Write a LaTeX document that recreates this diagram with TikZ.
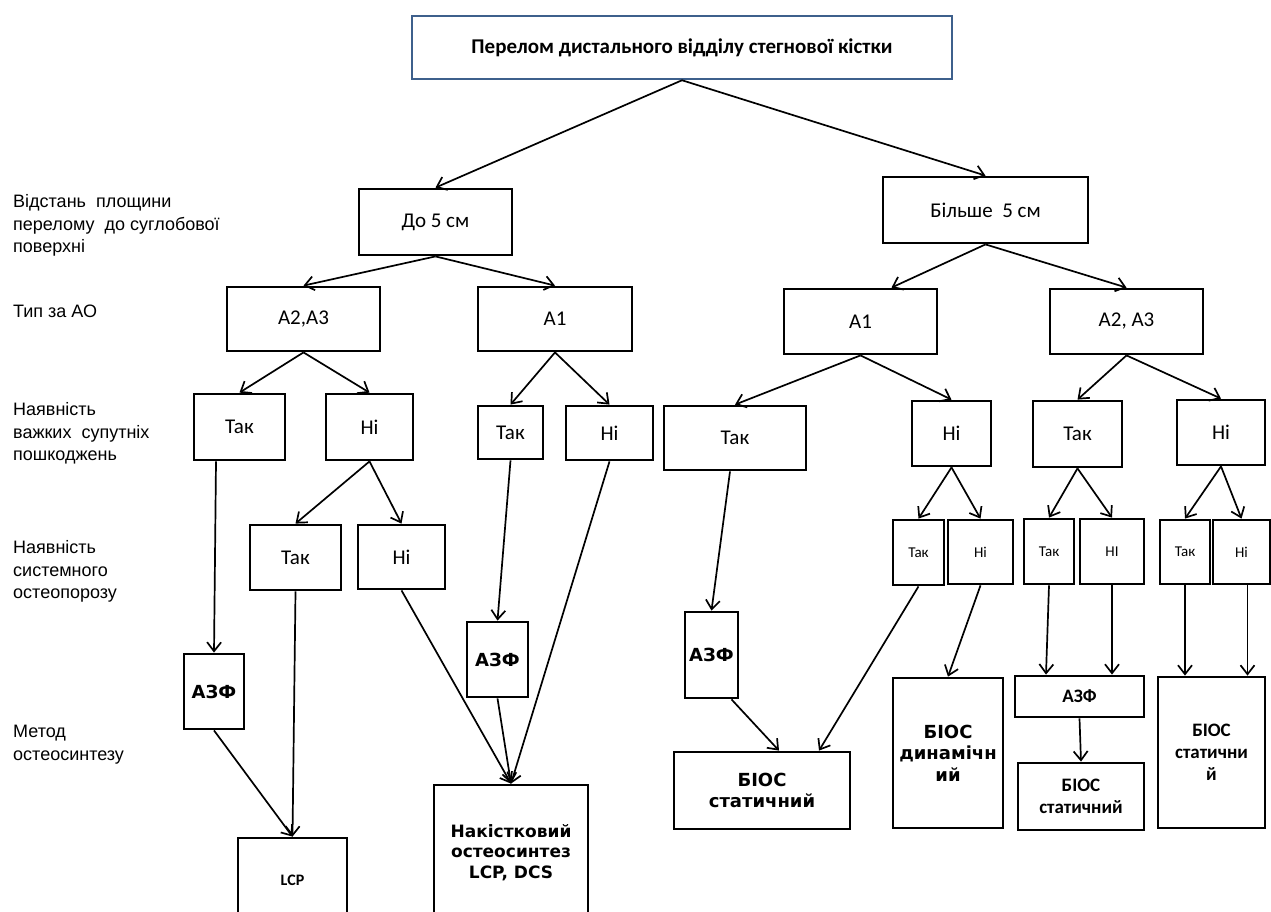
\documentclass[tikz,border=0pt]{standalone}
\usepackage{fontspec}
\setmainfont{Carlito}
\newfontfamily\arialf{Liberation Sans}
\newfontfamily\dejaf{DejaVu Sans}
\usetikzlibrary{arrows.meta}
\definecolor{topblue}{RGB}{62,96,140}
\tikzset{
  box/.style={draw, line width=2.8pt, inner sep=0pt, align=center, font=\fontsize{21}{25}\selectfont},
  sbox/.style={box, font=\fontsize{15}{18}\selectfont},
  dbox/.style={box, font=\dejaf\bfseries\fontsize{18}{21.5}\selectfont},
  cbbox/.style={box, font=\bfseries\fontsize{19}{22}\selectfont},
  lab/.style={anchor=base west, inner sep=0pt, font=\arialf\fontsize{18}{23}\selectfont},
  arr/.style={line width=1.7pt, -{Straight Barb[length=9pt,width=14pt,line width=1.7pt]}},
}
\begin{document}
\begin{tikzpicture}[x=1pt,y=-1pt]
\useasboundingbox (0,0) rectangle (1271,911);
% left labels
\node[lab] (l1a) at (13,207) {Відстань\ \ площини};
\node[lab] (l1b) at (13,230) {перелому\ \ до суглобової};
\node[lab] (l1c) at (13,252) {поверхні};
\node[lab] (l2a) at (13,317) {Тип за АО};
\node[lab] (l3a) at (13,415) {Наявність};
\node[lab] (l3b) at (13,438) {важких\ \ супутніх};
\node[lab] (l3c) at (13,460) {пошкоджень};
\node[lab] (l4a) at (13,553) {Наявність};
\node[lab] (l4b) at (13,576) {системного};
\node[lab] (l4c) at (13,598) {остеопорозу};
\node[lab] (l5a) at (13,737) {Метод};
\node[lab] (l5b) at (13,760) {остеосинтезу};
% boxes
\node[box, draw=topblue, line width=2.5pt, minimum width=540, minimum height=63, font=\bfseries\fontsize{21}{25}\selectfont] (top) at (682,47.5) {Перелом дистального відділу стегнової кістки};
\node[box, minimum width=153, minimum height=66] (do5) at (435.5,222) {До 5 см};
\node[box, minimum width=205, minimum height=66] (bil5) at (985.5,210) {Більше\ \ 5 см};
\node[box, minimum width=153, minimum height=64] (a23L) at (303.5,319) {A2,A3};
\node[box, minimum width=154, minimum height=64] (a1L) at (555,319) {A1};
\node[box, minimum width=153, minimum height=65] (a1R) at (860.5,321.5) {A1};
\node[box, minimum width=153, minimum height=65] (a23R) at (1126.5,321.5) {A2, A3};
\node[box, minimum width=91, minimum height=66] (takLL) at (239.5,427) {Так};
\node[box, minimum width=87, minimum height=66] (niLL) at (369.5,427) {Ні};
\node[box, minimum width=65, minimum height=53] (takLR) at (510.5,432.5) {Так};
\node[box, minimum width=87, minimum height=54] (niLR) at (609.5,433) {Ні};
\node[box, minimum width=142, minimum height=64] (takRL) at (735,438) {Так};
\node[box, minimum width=79, minimum height=65] (niRL) at (951.5,433.5) {Ні};
\node[box, minimum width=89, minimum height=66] (takRR) at (1077.5,434) {Так};
\node[box, minimum width=88, minimum height=65] (niRR) at (1221,432.5) {Ні};
\node[box, minimum width=91, minimum height=65] (takLL2) at (295.5,557.5) {Так};
\node[box, minimum width=87, minimum height=64] (niLL2) at (401.5,557) {Ні};
\node[sbox, minimum width=51, minimum height=65] (s1) at (918.5,552.5) {Так};
\node[sbox, minimum width=65, minimum height=64] (s2) at (980.5,552) {Ні};
\node[sbox, minimum width=50, minimum height=65] (s3) at (1049,551.5) {Так};
\node[sbox, minimum width=64, minimum height=65] (s4) at (1112,551.5) {НІ};
\node[sbox, minimum width=50, minimum height=64] (s5) at (1185,552) {Так};
\node[sbox, minimum width=57, minimum height=64] (s6) at (1241.5,552) {Ні};
\node[dbox, minimum width=60, minimum height=75] (azfLL) at (214,691.5) {АЗФ};
\node[dbox, minimum width=61, minimum height=75] (azfM) at (497.5,659.5) {АЗФ};
\node[dbox, minimum width=53, minimum height=86] (azfRL) at (711.5,655) {АЗФ};
\node[dbox, minimum width=176, minimum height=77] (biosRL) at (762,790.5) {БІОС\\статичний};
\node[dbox, minimum width=110, minimum height=150] (biosD) at (948,753) {БІОС\\динамічн\\ий};
\node[cbbox, minimum width=129, minimum height=41] (azfRR) at (1079.5,696.5) {АЗФ};
\node[cbbox, minimum width=126, minimum height=67] (biosS) at (1081,796.5) {БІОС\\статичний};
\node[cbbox, minimum width=107, minimum height=151] (biosR) at (1211.5,752.5) {БІОС\\статични\\й};
\node[box, minimum width=109, minimum height=84, font=\bfseries\fontsize{16}{19}\selectfont] (lcp) at (292.5,880) {LCP};
\node[dbox, minimum width=154, minimum height=135, font=\dejaf\bfseries\fontsize{17}{20.5}\selectfont] (nak) at (511,852.5) {Накістковий\\остеосинтез\\LCP, DCS};
% connectors
\draw[arr] (top.south) -- (do5.north);
\draw[arr] (top.south) -- (bil5.north);
\draw[arr] (do5.south) -- (a23L.north);
\draw[arr] (do5.south) -- (a1L.north);
\draw[arr] (bil5.south) -- ([xshift=31pt]a1R.north);
\draw[arr] (bil5.south) -- (a23R.north);
\draw[arr] (a23L.south) -- (takLL.north);
\draw[arr] (a23L.south) -- (niLL.north);
\draw[arr] (a1L.south) -- (takLR.north);
\draw[arr] (a1L.south) -- (niLR.north);
\draw[arr] (a1R.south) -- (takRL.north);
\draw[arr] (a1R.south) -- (niRL.north);
\draw[arr] (a23R.south) -- (takRR.north);
\draw[arr] (a23R.south) -- (niRR.north);
\draw[arr] (niLL.south) -- (takLL2.north);
\draw[arr] (niLL.south) -- (niLL2.north);
\draw[arr] (niRL.south) -- (s1.north);
\draw[arr] (niRL.south) -- (s2.north);
\draw[arr] (takRR.south) -- (s3.north);
\draw[arr] (takRR.south) -- (s4.north);
\draw[arr] (niRR.south) -- (s5.north);
\draw[arr] (niRR.south) -- (s6.north);
\draw[arr] ([xshift=-23.5pt]takLL.south) -- (azfLL.north);
\draw[arr] (azfLL.south) -- (lcp.north);
\draw[arr] (takLL2.south) -- (lcp.north);
\draw[arr] (niLL2.south) -- (nak.north);
\draw[arr] (takLR.south) -- (azfM.north);
\draw[arr] (azfM.south) -- (nak.north);
\draw[arr] (niLR.south) -- (nak.north);
\draw[arr] ([xshift=-5pt]takRL.south) -- (azfRL.north);
\draw[arr] ([xshift=20pt]azfRL.south) -- ([xshift=17pt]biosRL.north);
\draw[arr] (s1.south) -- ([xshift=57pt]biosRL.north);
\draw[arr] (s2.south) -- (biosD.north);
\draw[arr] (s3.south) -- ([xshift=-33.5pt]azfRR.north);
\draw[arr] (s4.south) -- ([xshift=32.5pt]azfRR.north);
\draw[arr] (azfRR.south) -- (biosS.north);
\draw[arr] (s5.south) -- ([xshift=-26.5pt]biosR.north);
\draw[arr] ([xshift=6pt]s6.south) -- ([xshift=6pt]s6.south |- biosR.north);
\end{tikzpicture}
\end{document}
